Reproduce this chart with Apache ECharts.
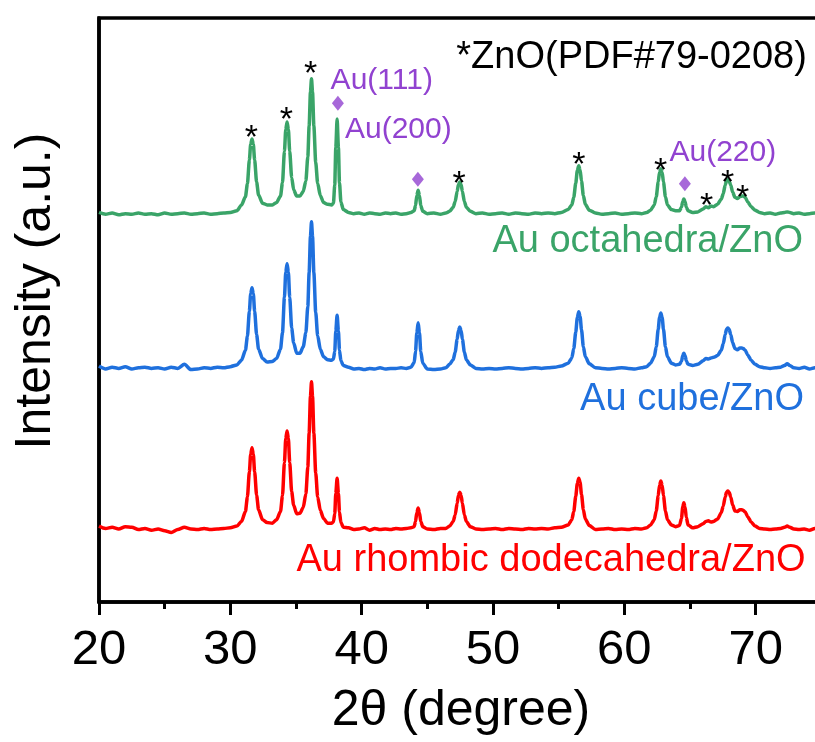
<!DOCTYPE html>
<html>
<head>
<meta charset="utf-8">
<script src="https://cdn.jsdelivr.net/npm/echarts@6/dist/echarts.min.js"></script>
<style>html,body{margin:0;padding:0;background:#fff;}#chart{width:815px;height:742px;}</style>
</head>
<body>
<div id="chart"></div>
<script>
// 2θ grid (degree)
const theta = [
  20.0,20.5,21.0,21.5,22.0,22.5,23.0,23.5,24.0,24.5,25.0,25.5,26.0,26.5,27.0,27.5,28.0,28.5,29.0,29.5,30.0,30.5,
  30.85,31.15,31.3,31.45,31.55,31.65,31.75,31.85,32.0,32.15,32.45,
  32.8,33.2,
  33.52,33.82,33.97,34.12,34.22,34.32,34.42,34.52,34.67,34.82,
  35.05,35.3,
  35.55,35.75,35.9,36.0,36.1,36.18,36.26,36.36,36.5,36.65,36.85,37.1,
  37.4,37.7,
  37.85,37.95,38.03,38.13,38.23,38.31,38.42,38.6,
  39.0,39.4,39.8,40.2,40.6,41.0,41.4,41.8,42.2,42.6,43.0,43.4,43.75,
  44.0,44.1,44.2,44.3,44.4,44.5,44.65,
  45.0,45.5,46.0,46.4,
  46.7,46.97,47.12,47.27,47.37,47.47,47.57,47.67,47.82,47.97,48.27,
  48.7,49.2,49.7,50.2,50.7,51.2,51.7,52.2,52.7,53.2,53.7,54.2,54.7,55.2,
  55.73,56.0,56.15,56.3,56.42,56.53,56.63,56.74,56.88,57.03,57.33,
  57.8,58.3,58.8,59.3,59.8,60.3,60.8,61.3,61.7,
  62.0,62.28,62.43,62.58,62.68,62.78,62.88,62.98,63.13,63.28,63.58,
  63.9,64.2,
  64.35,64.45,64.53,64.62,64.72,64.85,
  65.2,65.6,66.0,66.2,66.4,66.6,66.8,
  67.1,67.38,67.53,67.68,67.78,67.88,67.98,68.1,68.25,68.42,68.6,68.8,68.95,69.05,69.2,69.4,69.65,69.95,70.3,
  70.7,71.1,71.5,71.9,72.2,72.4,72.6,72.9,73.3,73.7,74.1,74.5,74.9,75.3
];
// intensities above each pattern's own baseline (a.u.)
const octahedraI = [
  0.2,-0.1,0.1,-0.2,0.0,-0.1,0.1,-0.1,0.0,-0.2,0.1,-0.1,0.0,0.1,-0.1,0.0,0.1,-0.1,0.0,0.1,0.2,0.5,
  1.5,2.9,5.1,9.2,11.9,12.8,11.9,9.2,5.4,3.2,1.8,
  1.5,1.5,
  1.9,3.0,5.3,10.7,14.4,15.7,14.4,10.7,6.2,4.1,
  3.0,3.0,
  3.8,5.6,9.7,15.0,20.8,23.1,20.8,15.0,8.8,5.2,3.1,1.9,
  1.6,1.5,
  1.8,4.9,11.3,16.2,11.3,5.3,2.0,0.7,
  0.2,0.0,0.1,-0.1,0.1,0.0,-0.1,0.1,0.0,0.1,-0.1,0.0,0.2,
  0.5,1.4,3.1,4.0,3.1,1.4,0.4,
  0.0,0.1,-0.1,0.1,
  0.4,1.1,2.1,3.8,5.0,5.4,5.0,3.8,2.1,1.1,0.4,
  0.0,0.1,-0.1,0.0,0.1,-0.1,0.1,0.0,-0.1,0.1,0.0,0.1,0.0,0.2,
  0.7,1.5,2.8,5.2,7.4,8.2,7.5,5.6,3.1,1.6,0.6,
  0.1,-0.1,0.0,0.1,-0.1,0.0,0.1,0.0,0.2,
  0.6,1.5,2.9,5.4,7.1,7.7,7.1,5.4,2.9,1.5,0.7,
  0.5,0.5,
  1.1,2.1,2.5,2.1,1.1,0.5,
  0.2,0.3,0.8,1.2,1.0,1.3,1.2,
  1.6,2.5,3.4,4.9,5.6,5.8,5.6,4.9,3.7,2.8,2.6,2.9,3.0,3.0,2.8,2.0,1.2,0.6,0.2,
  0.0,0.1,-0.1,0.1,0.2,0.3,0.2,0.0,0.1,-0.1,0.0,0.1,-0.1,0.0
];
const cubeI = [
  0.3,-0.2,0.1,-0.1,0.2,-0.2,0.0,0.1,-0.1,0.0,-0.2,0.1,-0.1,0.6,-0.3,-0.2,0.0,-0.1,0.1,0.0,0.2,0.5,
  1.3,3.0,5.4,9.7,12.7,13.7,12.7,9.7,5.7,3.2,1.6,
  1.0,1.1,
  1.6,3.2,6.0,12.1,16.4,17.8,16.4,12.1,6.8,4.3,
  2.5,2.5,
  3.6,6.0,10.5,16.3,22.5,25.0,22.5,16.3,9.5,5.5,3.2,1.9,
  1.4,1.3,
  1.5,2.8,6.3,9.0,6.3,3.0,1.2,0.4,
  0.1,-0.2,-0.1,-0.3,-0.1,-0.2,0.0,-0.2,-0.1,-0.1,0.0,-0.1,0.1,
  0.9,2.8,6.0,7.7,6.0,2.8,0.8,
  -0.2,-0.3,-0.2,0.0,
  0.6,1.4,2.7,4.9,6.4,7.0,6.4,4.9,2.7,1.4,0.5,
  -0.1,-0.2,-0.1,-0.2,-0.1,0.0,-0.1,-0.2,-0.1,0.0,-0.1,0.0,0.1,0.3,
  0.8,1.7,3.3,6.1,8.6,9.6,8.8,6.5,3.6,1.9,0.7,
  0.0,-0.1,-0.2,-0.1,0.0,-0.1,-0.2,0.0,0.2,
  0.8,1.9,3.6,6.6,8.6,9.4,8.6,6.6,3.6,1.9,0.8,
  0.5,0.6,
  1.1,2.1,2.5,2.1,1.2,0.6,
  0.4,0.6,1.2,1.6,1.5,1.7,1.8,
  2.1,3.0,4.1,5.7,6.6,6.8,6.6,5.7,4.3,3.3,3.1,3.4,3.4,3.3,3.0,2.2,1.3,0.6,0.2,
  0.0,-0.1,0.0,0.1,0.4,0.7,0.4,0.0,-0.1,0.1,-0.2,0.0,0.1,0.0
];
const rhombicI = [
  0.5,0.1,0.3,0.0,0.4,0.3,-0.1,0.1,-0.2,0.0,-0.3,-0.6,-0.1,0.3,0.0,-0.1,0.1,-0.1,0.0,0.1,0.2,0.5,
  1.3,3.0,5.5,9.8,12.8,13.9,12.8,9.8,5.8,3.3,1.6,
  1.1,1.0,
  1.6,3.0,5.7,11.4,15.5,16.8,15.5,11.4,6.4,4.1,
  2.6,2.7,
  3.7,6.0,10.6,16.4,22.7,25.2,22.7,16.4,9.6,5.5,3.2,1.8,
  1.0,1.0,
  1.2,2.6,6.1,8.7,6.1,2.9,1.1,0.3,
  0.2,-0.1,0.0,0.2,-0.2,0.1,-0.1,0.0,-0.1,0.1,0.0,0.1,0.2,
  0.4,1.3,2.8,3.6,2.8,1.3,0.4,
  0.0,-0.1,0.1,0.1,
  0.5,1.3,2.4,4.4,5.8,6.3,5.8,4.4,2.4,1.3,0.4,
  0.0,-0.1,0.0,0.1,-0.1,0.1,0.0,-0.1,0.1,0.0,0.1,0.0,0.2,0.3,
  0.7,1.6,3.0,5.6,7.8,8.7,8.0,5.9,3.3,1.7,0.6,
  -0.1,0.0,0.1,-0.1,0.0,-0.1,0.1,0.0,0.2,
  0.7,1.6,3.1,5.7,7.5,8.2,7.5,5.7,3.1,1.6,0.7,
  0.4,0.6,
  1.8,3.8,4.5,3.8,2.0,0.7,
  0.2,0.4,0.9,1.3,1.4,1.2,1.3,
  1.7,2.8,3.9,5.5,6.3,6.5,6.3,5.5,4.1,3.1,3.0,3.3,3.3,3.2,2.9,2.1,1.2,0.5,0.1,
  0.0,-0.1,0.0,0.1,0.3,0.5,0.3,0.0,-0.1,0.0,-0.2,0.1,0.0,0.1
];
// vertical offsets used to stack the patterns
const octahedraOffset = 66.5;
const cubeOffset = 40.1;
const rhombicOffset = 12.5;

const seriesNames = ['Au octahedra/ZnO', 'Au cube/ZnO', 'Au rhombic dodecahedra/ZnO'];
const seriesColors = ['#3AA468', '#1F70DD', '#FF0000'];
const seriesLabelTheta = [73.6, 73.68, 73.8];
const seriesLabelValue = [61.7, 34.7, 7.1];

// ZnO reflections marked with *
const starTheta = [31.61, 34.27, 36.12, 47.42, 56.54, 62.76, 66.26, 67.86, 69.0];
const starValue = [81.1, 84.1, 92.0, 73.1, 76.4, 75.4, 69.4, 73.4, 70.7];
// Au reflections marked with diamonds
const auTheta = [38.19, 44.28, 64.61];
const auValue = [85.4, 72.4, 71.6];
const auLabelText = ['Au(111)', 'Au(200)', 'Au(220)'];
const auLabelTheta = [41.53, 42.79, 67.5];
const auLabelValue = [89.3, 80.8, 77.0];
const refText = '*ZnO(PDF#79-0208)';
const refTheta = 73.9;
const refValue = 93.15;

const xTicks = [20, 30, 40, 50, 60, 70];

const FONT = '"Liberation Sans", Arial, Helvetica, sans-serif';
const PURPLE = '#9142D0';

function build(intens, offset) {
  return theta.map((t, i) => [t, intens[i] + offset]);
}

const chart = echarts.init(document.getElementById('chart'), null, {renderer: 'canvas'});

const baseLabel = {show: true, position: 'inside', verticalAlign: 'middle', fontFamily: FONT,
  textBorderWidth: 0, textShadowBlur: 0, opacity: 1};
const labelData = seriesNames.map((n, i) => ({
  value: [seriesLabelTheta[i], seriesLabelValue[i]],
  label: Object.assign({}, baseLabel, {formatter: n, color: seriesColors[i], fontSize: 38, align: 'right'})
}));
labelData.push({
  value: [refTheta, refValue],
  label: Object.assign({}, baseLabel, {formatter: refText, color: '#000', fontSize: 38, align: 'right'})
});
auLabelText.forEach((t, i) => labelData.push({
  value: [auLabelTheta[i], auLabelValue[i]],
  label: Object.assign({}, baseLabel, {formatter: t, color: PURPLE, fontSize: 30, align: 'center'})
}));

const option = {
  animation: false,
  backgroundColor: '#fff',
  textStyle: {fontFamily: FONT},
  grid: {left: 99, top: 18, width: 788, height: 584, show: true, borderColor: '#000', borderWidth: 3.5,
    backgroundColor: 'transparent', containLabel: false, outerBoundsMode: 'none'},
  xAxis: {
    type: 'value', min: 20, max: 80, interval: 10,
    name: '2θ (degree)', nameLocation: 'middle', nameGap: 84,
    nameTextStyle: {fontSize: 50, color: '#000', fontFamily: FONT, padding: [0, 64, 0, 0]},
    axisLine: {show: true, lineStyle: {color: '#000', width: 3.5}},
    axisTick: {show: true, inside: false, length: 13, lineStyle: {color: '#000', width: 3}},
    minorTick: {show: true, splitNumber: 2, length: 7, lineStyle: {color: '#000', width: 3}},
    axisLabel: {show: true, fontSize: 49, color: '#000', margin: 24, fontFamily: FONT,
      formatter: v => (xTicks.indexOf(v) >= 0 ? String(v) : '')},
    splitLine: {show: false}, minorSplitLine: {show: false}
  },
  yAxis: {
    type: 'value', min: 0, max: 100,
    name: 'Intensity (a.u.)', nameLocation: 'middle', nameGap: 38, nameRotate: 90,
    nameTextStyle: {fontSize: 50, color: '#000', fontFamily: FONT, padding: [0, 0, 0, 38]},
    axisLine: {show: true, lineStyle: {color: '#000', width: 3.5}},
    axisTick: {show: false}, axisLabel: {show: false}, splitLine: {show: false}
  },
  series: [
    {type: 'line', name: seriesNames[0], data: build(octahedraI, octahedraOffset), showSymbol: false,
      smooth: 0.25, smoothMonotone: 'x', lineStyle: {color: seriesColors[0], width: 3.5}, z: 3},
    {type: 'line', name: seriesNames[1], data: build(cubeI, cubeOffset), showSymbol: false,
      smooth: 0.25, smoothMonotone: 'x', lineStyle: {color: seriesColors[1], width: 3.5}, z: 3},
    {type: 'line', name: seriesNames[2], data: build(rhombicI, rhombicOffset), showSymbol: false,
      smooth: 0.25, smoothMonotone: 'x', lineStyle: {color: seriesColors[2], width: 3.5}, z: 3},
    {type: 'scatter', name: 'ZnO', symbolSize: 0.1, itemStyle: {color: 'rgba(0,0,0,0)'},
      data: starTheta.map((t, i) => [t, starValue[i]]),
      label: Object.assign({}, baseLabel, {formatter: '*', color: '#000', fontSize: 34, offset: [0, 10]}),
      z: 5, silent: true},
    {type: 'scatter', name: 'Au', symbol: 'diamond', symbolSize: [12, 15], itemStyle: {color: PURPLE},
      data: auTheta.map((t, i) => [t, auValue[i]]), z: 5, silent: true},
    {type: 'scatter', name: 'labels', symbolSize: 0.1, itemStyle: {color: 'rgba(0,0,0,0)'},
      data: labelData, label: baseLabel, z: 6, silent: true}
  ]
};
chart.setOption(option);
</script>
</body>
</html>
